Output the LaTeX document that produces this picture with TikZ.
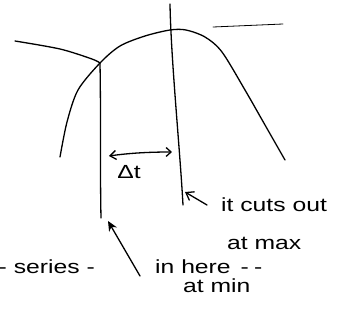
\documentclass[tikz,border=0pt]{standalone}
\usepackage{fontspec}
\setmainfont{Liberation Sans}
\newfontfamily\hand[FakeStretch=1.3]{Liberation Sans}
\usetikzlibrary{arrows.meta}
\begin{document}
\begin{tikzpicture}[x=1pt,y=-1pt,
  pen/.style={line width=1.3pt,line cap=round,line join=round},
  thinpen/.style={line width=0.8pt,line cap=round},
  lbl/.style={font=\hand\fontsize{19}{21}\selectfont,inner sep=0pt}]
\useasboundingbox (0,0) rectangle (360,324);
% coordinates
\coordinate (J) at (100,63);
\coordinate (L0) at (15,41);
\coordinate (T0) at (170,4);
\coordinate (T1) at (183,205);
\coordinate (V1) at (101,218);
\coordinate (D0) at (213,27);
\coordinate (D1) at (283,24);
% main curve
\draw[pen] plot[smooth] coordinates {(60,157) (67,122) (78,90) (J) (120,46) (145,36) (170,30) (186,30) (205,37) (222,52) (245,90) (265,125) (285,160)};
% left branch
\draw[pen] plot[smooth] coordinates {(L0) (60,49) (92,59) (J)};
% verticals
\draw[pen] (J) .. controls (101,120) and (100,170) .. (V1);
\draw[pen] (T0) .. controls (171,60) and (180,150) .. (T1);
% faint top stroke
\draw[thinpen] (D0) -- (D1);
% double arrow
\coordinate (A0) at (109,156);
\coordinate (A1) at (172,152);
\draw[pen,{Straight Barb[length=6pt,width=9pt]}-{Straight Barb[length=5pt,width=9pt]}] (A0) .. controls (130,153) and (150,152) .. (A1);
\node[lbl] (dt) at (129,172) {Δt};
% labels
\node[lbl,anchor=west] (cuts) at (221,205) {it cuts out};
\node[lbl,anchor=west] (max) at (227,243) {at max};
\node[lbl,anchor=west] (here) at (155,267) {in here\, -\;-};
\node[lbl,anchor=west] (min) at (183,286) {at min};
\node[lbl,anchor=east] (series) at (95,267) {- series -};
% pointer arrows
\coordinate (P1) at (185,192);
\coordinate (P2) at (108,221);
\draw[pen,-{Straight Barb[length=7pt,width=10pt]}] (207,205) -- (P1);
\draw[pen,-{Stealth[length=10pt,width=9pt]}] (140,276) -- (P2);
\end{tikzpicture}
\end{document}
